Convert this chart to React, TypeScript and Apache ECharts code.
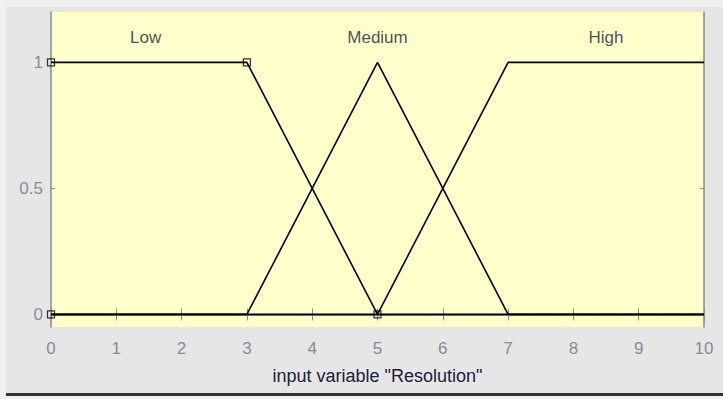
import React, { useEffect, useRef } from "react";
import * as echarts from "echarts";

const xTicks = [0, 1, 2, 3, 4, 5, 6, 7, 8, 9, 10];
const yTicks = [0, 0.5, 1];
const lowMF: [number, number][] = [[0, 1], [3, 1], [5, 0], [10, 0]];
const mediumMF: [number, number][] = [[0, 0], [3, 0], [5, 1], [7, 0], [10, 0]];
const highMF: [number, number][] = [[0, 0], [5, 0], [7, 1], [10, 1]];
const markerPoints: [number, number][] = [[0, 1], [3, 1], [0, 0], [5, 0]];
const mfLabels: { name: string; x: number }[] = [
  { name: "Low", x: 1.45 },
  { name: "Medium", x: 5 },
  { name: "High", x: 8.5 },
];
const xLabel = 'input variable "Resolution"';

export default function App() {
  const ref = useRef<HTMLDivElement>(null);
  useEffect(() => {
    if (!ref.current) return;
    const chart = echarts.init(ref.current, undefined, { renderer: "svg" });
    const axisGray = "#8a8a8a";
    const labelColor = "#8a8a98";
    const textDark = "#202038";
    const font = "Liberation Sans, Arial";
    const lineStyle = { color: "#000", width: 1.6 };
    chart.setOption({
      animation: false,
      backgroundColor: "#e6e6e6",
      grid: { left: 51, top: 12, width: 653, height: 315 },
      xAxis: [
        {
          type: "value",
          min: 0,
          max: 10,
          interval: 1,
          position: "bottom",
          axisLine: { show: true, lineStyle: { color: axisGray, width: 1.5 } },
          axisTick: { show: true, inside: true, length: 6, lineStyle: { color: axisGray } },
          axisLabel: {
            color: labelColor,
            fontFamily: font,
            fontSize: 17,
            margin: 13,
            formatter: (v: number) => (xTicks.includes(v) ? String(v) : ""),
          },
          splitLine: { show: false },
          name: xLabel,
          nameLocation: "middle",
          nameGap: 40,
          nameTextStyle: { color: textDark, fontFamily: font, fontSize: 18 },
        },
        {
          type: "value",
          min: 0,
          max: 10,
          interval: 1,
          position: "top",
          axisLine: { show: true, lineStyle: { color: axisGray, width: 1.5 } },
          axisTick: { show: true, inside: true, length: 6, lineStyle: { color: axisGray } },
          axisLabel: { show: false },
          splitLine: { show: false },
        },
      ],
      yAxis: [
        {
          type: "value",
          min: -0.05,
          max: 1.2,
          position: "left",
          axisLine: { show: true, onZero: false, lineStyle: { color: axisGray, width: 1.5 } },
          axisTick: {
            show: true,
            inside: true,
            length: 4,
            customValues: yTicks,
            lineStyle: { color: axisGray },
          },
          axisLabel: {
            color: labelColor,
            fontFamily: font,
            fontSize: 17,
            margin: 8,
            customValues: yTicks,
          },
          splitLine: { show: false },
        },
        {
          type: "value",
          min: -0.05,
          max: 1.2,
          position: "right",
          axisLine: { show: true, onZero: false, lineStyle: { color: axisGray, width: 1.5 } },
          axisTick: {
            show: true,
            inside: true,
            length: 4,
            customValues: yTicks,
            lineStyle: { color: axisGray },
          },
          axisLabel: { show: false },
          splitLine: { show: false },
        },
      ],
      graphic: [
        { type: "rect", shape: { x: 0, y: 0, width: 723, height: 7 }, style: { fill: "#f0f0f0" }, z: -1 },
        { type: "rect", shape: { x: 0, y: 0, width: 6, height: 399 }, style: { fill: "#f0f0f0" }, z: -1 },
        { type: "rect", shape: { x: 6, y: 393, width: 717, height: 3 }, style: { fill: "#333333" }, z: -1 },
        { type: "rect", shape: { x: 0, y: 396, width: 723, height: 3 }, style: { fill: "#f0f0f0" }, z: -1 },
        { type: "rect", shape: { x: 51, y: 12, width: 653, height: 315 }, style: { fill: "#ffffcc" }, z: -1 },
      ],
      series: [
        { type: "line", data: lowMF, symbol: "none", lineStyle, z: 3 },
        { type: "line", data: mediumMF, symbol: "none", lineStyle, z: 3 },
        { type: "line", data: highMF, symbol: "none", lineStyle, z: 3 },
        {
          type: "scatter",
          data: markerPoints,
          symbol: "rect",
          symbolSize: 7,
          itemStyle: { color: "transparent", borderColor: "#000", borderWidth: 1.2 },
          z: 4,
        },
        {
          type: "scatter",
          data: mfLabels.map((m) => [m.x, 1.1, m.name]),
          symbolSize: 0,
          label: {
            show: true,
            position: "inside",
            formatter: (p: any) => p.data[2],
            color: textDark,
            fontFamily: font,
            fontSize: 17,
          },
          z: 5,
        },
      ],
    });
    return () => chart.dispose();
  }, []);
  return (
    <div
      ref={ref}
      style={{ position: "fixed", left: 0, top: 0, width: 723, height: 399 }}
    />
  );
}
